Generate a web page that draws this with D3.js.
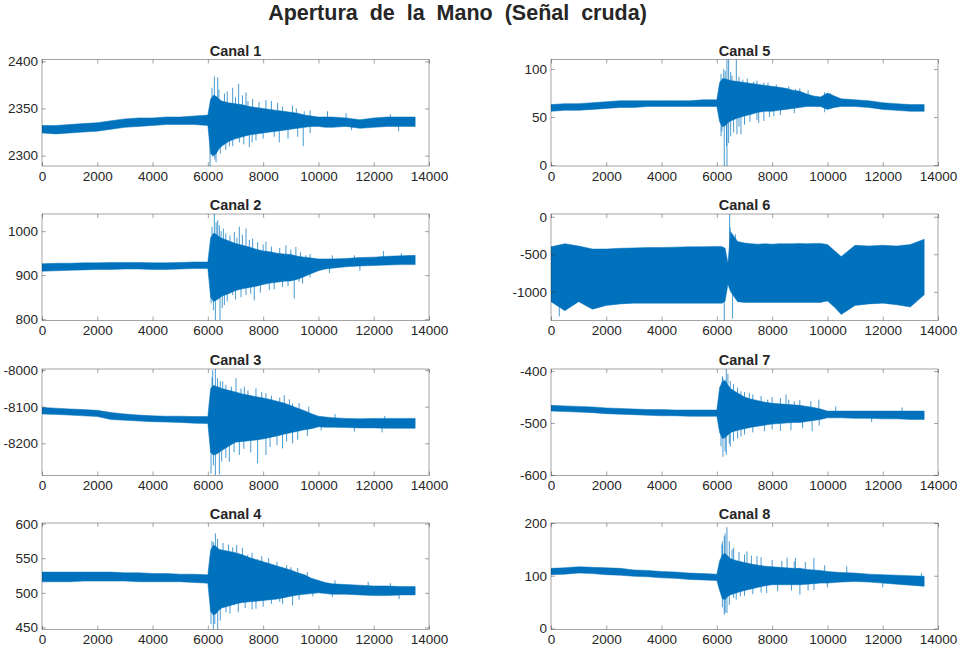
<!DOCTYPE html>
<html>
<head>
<meta charset="utf-8">
<script src="https://cdn.jsdelivr.net/npm/d3@7"></script>
<style>
  html, body { margin: 0; padding: 0; background: #ffffff; }
  svg { display: block; font-family: "Liberation Sans", Arial, Helvetica, sans-serif; }
</style>
</head>
<body>
<svg id="chart" width="959" height="651"></svg>
<script>
// ---------------- DATA ----------------
const chartTitle = "Apertura  de  la  Mano  (Señal  cruda)";
const channelNames = ["Canal 1", "Canal 2", "Canal 3", "Canal 4", "Canal 5", "Canal 6", "Canal 7", "Canal 8"];
const xTicks = [0, 2000, 4000, 6000, 8000, 10000, 12000, 14000];

// sample index grid at which the signal envelope was read
const sampleIdx = [0, 500, 1000, 1500, 2000, 2500, 3000, 3500, 4000, 4500, 5000, 5500, 6000,
  6100, 6200, 6300, 6400, 6500, 6750, 7000, 7250, 7500, 7750, 8000, 8250, 8500, 8750, 9000,
  9250, 9500, 9750, 10000, 10250, 10500, 11000, 11500, 12000, 12500, 13000, 13500];

// Canal 1
const canal1Upper = [2332, 2332, 2333, 2334, 2335, 2337, 2339, 2340, 2340, 2341, 2341, 2342, 2343,
  2360, 2364, 2363, 2360, 2358, 2356, 2355, 2354, 2352, 2351, 2350, 2349, 2348, 2347, 2346,
  2345, 2343, 2342, 2341, 2341, 2341, 2340, 2338, 2340, 2341, 2341, 2341];
const canal1Lower = [2324, 2323, 2324, 2325, 2326, 2328, 2330, 2331, 2332, 2333, 2333, 2333, 2332,
  2302, 2300, 2302, 2307, 2310, 2315, 2318, 2320, 2322, 2323, 2324, 2325, 2326, 2327, 2328,
  2329, 2330, 2331, 2331, 2330, 2330, 2331, 2329, 2330, 2331, 2331, 2331];
const canal1Spikes = [[6236, 2384], [6356, 2383], [6079, 2289], [6175, 2299], [6296, 2293],
  [6898, 2372], [7114, 2376], [7379, 2367], [7620, 2360], [8101, 2359], [8523, 2356], [9065, 2353],
  [9486, 2347], [10329, 2347], [6777, 2310], [7139, 2314], [7500, 2309], [7741, 2316], [8583, 2314], [9450, 2310],
  [6150, 2372], [6400, 2370], [6600, 2366], [6700, 2368], [7000, 2362], [7250, 2364], [7450, 2358],
  [7850, 2357], [8300, 2358], [8700, 2352], [9200, 2350], [9700, 2348], [11000, 2345], [12600, 2344],
  [6250, 2296], [6450, 2302], [6650, 2306], [6900, 2310], [7300, 2312], [7600, 2314], [8000, 2318],
  [8400, 2320], [8900, 2318], [9250, 2320], [9700, 2324], [11200, 2327], [12900, 2326]];

// Canal 2
const canal2Upper = [926, 927, 927, 928, 928, 929, 929, 929, 928, 928, 929, 930, 930,
  985, 995, 993, 988, 984, 978, 972, 968, 964, 959, 955, 953, 950, 948, 947,
  943, 941, 939, 937, 937, 937, 938, 940, 941, 943, 944, 945];
const canal2Lower = [909, 910, 911, 912, 913, 913, 914, 914, 913, 913, 914, 915, 915,
  850, 840, 843, 847, 852, 858, 865, 869, 872, 875, 879, 882, 884, 886, 887,
  891, 897, 904, 910, 914, 916, 919, 921, 922, 923, 924, 924];
const canal2Spikes = [[6236, 1039], [6356, 1025], [6416, 1013], [6561, 1006], [6958, 998], [7139, 1010],
  [7380, 1006], [7620, 983], [8101, 976], [8824, 968], [9185, 964], [9546, 945],
  [6115, 836], [6272, 797], [6440, 797], [6597, 832], [6898, 855], [7380, 855], [7680, 843],
  [8222, 866], [8703, 873], [9125, 847], [9426, 881],
  [6150, 1010], [6300, 1020], [6480, 1000], [6650, 995], [6800, 990], [7050, 985], [7250, 992], [7500, 980],
  [7800, 975], [8000, 970], [8300, 965], [8600, 962], [9000, 958], [9350, 952], [9700, 948], [10500, 945],
  [11300, 945], [12350, 955], [13000, 950],
  [6200, 820], [6520, 825], [6700, 840], [7000, 845], [7200, 850], [7550, 858], [7900, 860], [8400, 868],
  [8900, 875], [9300, 885], [9700, 895], [10400, 905], [11500, 910]];

// Canal 3
const canal3Upper = [-8102, -8104, -8106, -8108, -8110, -8116, -8120, -8123, -8125, -8126, -8126, -8127, -8127,
  -8050, -8042, -8044, -8047, -8050, -8055, -8060, -8065, -8069, -8073, -8076, -8080, -8085, -8090, -8097,
  -8104, -8111, -8119, -8126, -8128, -8130, -8132, -8133, -8132, -8132, -8132, -8132];
const canal3Lower = [-8120, -8121, -8123, -8125, -8127, -8135, -8137, -8139, -8141, -8142, -8143, -8145, -8146,
  -8225, -8232, -8230, -8225, -8220, -8208, -8197, -8195, -8193, -8191, -8188, -8184, -8180, -8175, -8171,
  -8167, -8163, -8160, -8155, -8156, -8156, -8157, -8158, -8158, -8159, -8159, -8159];
const canal3Spikes = [[6175, -8000], [6272, -7995], [6350, -8022], [6537, -8031], [7018, -8022], [7320, -8045],
  [7741, -8050], [8101, -8063], [8764, -8068], [9065, -8091],
  [6115, -8283], [6272, -8287], [6416, -8285], [6777, -8251], [7139, -8232], [7800, -8255],
  [8101, -8232], [8703, -8214], [9065, -8200],
  [6150, -8020], [6450, -8030], [6650, -8040], [6850, -8045], [7200, -8050], [7450, -8055], [7950, -8060],
  [8300, -8070], [8600, -8075], [8950, -8080], [9300, -8090], [9650, -8100], [10600, -8120], [12400, -8125],
  [6200, -8260], [6500, -8250], [6650, -8240], [6950, -8225], [7300, -8215], [7550, -8225], [8250, -8210],
  [8500, -8205], [8850, -8195], [9250, -8190], [9600, -8180], [10100, -8165], [11300, -8168], [12300, -8170]];

// Canal 4
const canal4Upper = [530, 530, 530, 530, 530, 530, 529, 529, 528, 528, 527, 527, 526,
  562, 569, 567, 563, 562, 560, 558, 555, 551, 548, 545, 542, 539, 536, 533,
  529, 526, 521, 518, 515, 513, 512, 511, 510, 510, 509, 509];
const canal4Lower = [516, 516, 516, 517, 517, 517, 517, 516, 516, 516, 516, 515, 514,
  473, 468, 470, 475, 478, 481, 484, 486, 487, 488, 489, 490, 491, 493, 495,
  497, 498, 499, 500, 499, 498, 498, 497, 496, 496, 497, 497];
const canal4Spikes = [[6272, 586], [6200, 573], [6416, 561], [7042, 569], [7440, 555], [7800, 549],
  [8342, 540], [8679, 537], [9004, 537], [10028, 518],
  [6115, 455], [6200, 447], [6356, 447], [6657, 472], [6958, 482], [7740, 477], [8703, 484],
  [9065, 482], [12917, 491],
  [6150, 575], [6350, 578], [6550, 572], [6750, 570], [6900, 566], [7250, 565], [7600, 558], [7950, 553],
  [8200, 550], [8500, 545], [8850, 540], [9250, 536], [9600, 530], [10600, 518], [11800, 516], [12600, 514],
  [6250, 455], [6450, 460], [6800, 470], [7100, 472], [7350, 478], [7600, 476], [8000, 480], [8300, 484],
  [8600, 487], [9300, 490], [9800, 495], [10500, 494]];

// Canal 5
const canal5Upper = [63, 64, 64, 65, 66, 67, 67, 67, 67, 67, 67, 68, 68,
  86, 90, 90, 89, 88, 87, 86, 85, 84, 83, 82, 81, 80, 78, 77,
  74, 72, 71, 75, 72, 69, 68, 67, 65, 64, 63, 63];
const canal5Lower = [56, 57, 57, 58, 59, 60, 60, 61, 61, 61, 61, 61, 61,
  45, 40, 41, 44, 46, 49, 51, 53, 55, 56, 56, 57, 58, 59, 60,
  61, 61, 61, 58, 60, 61, 61, 60, 58, 57, 56, 56];
const canal5Spikes = [[6366, 112], [6426, 112], [6704, 112], [6300, 98], [6547, 93], [6940, 89],
  [7332, 87], [7700, 86], [8419, 80], [8842, 79], [10000, 74],
  [6184, 35], [6268, -2], [6366, -2], [6426, 23], [6607, 34], [6727, 32], [6872, 32],
  [7513, 44], [7700, 46], [8060, 51],
  [6150, 95], [6250, 100], [6500, 97], [6800, 92], [7100, 90], [7450, 88], [7850, 86], [8150, 84],
  [8600, 82], [9000, 80], [9300, 78], [9900, 76], [10100, 75],
  [6150, 30], [6350, 20], [6500, 30], [6800, 40], [7000, 42], [7200, 45], [7450, 47], [7900, 50],
  [8300, 52], [8800, 54], [9900, 55]];

// Canal 6
const canal6Upper = [-400, -360, -390, -430, -430, -420, -415, -410, -410, -405, -400, -400, -395,
  -395, -400, -420, -620, -200, -330, -350, -360, -365, -360, -365, -360, -360, -360, -355,
  -360, -355, -355, -370, -450, -530, -380, -390, -380, -390, -370, -300];
const canal6Lower = [-1130, -1250, -1130, -1230, -1180, -1160, -1150, -1150, -1150, -1150, -1150, -1150, -1150,
  -1150, -1150, -1120, -900, -1000, -1130, -1140, -1140, -1140, -1140, -1140, -1140, -1140, -1140, -1140,
  -1140, -1140, -1140, -1120, -1200, -1300, -1180, -1160, -1150, -1170, -1200, -1040];
const canal6Spikes = [[6462, 40], [6480, -143], [6667, -232], [6269, -1390], [6570, -1357], [300, -1326]];

// Canal 7
const canal7Upper = [-466, -467, -468, -469, -471, -472, -473, -474, -474, -475, -475, -475, -475,
  -432, -420, -418, -427, -434, -442, -450, -454, -457, -460, -462, -463, -464, -465, -466,
  -468, -470, -473, -477, -477, -477, -477, -477, -477, -477, -477, -477];
const canal7Lower = [-477, -478, -479, -480, -482, -483, -484, -485, -486, -486, -487, -487, -487,
  -518, -530, -528, -523, -518, -514, -511, -508, -506, -504, -502, -501, -500, -499, -499,
  -497, -495, -493, -490, -490, -490, -491, -491, -492, -492, -493, -493];
const canal7Spikes = [[6340, -395], [6220, -413], [6486, -419], [6872, -439], [7174, -442], [7839, -455],
  [8503, -445], [8800, -458], [9688, -455],
  [6220, -565], [6340, -561], [6486, -545], [6872, -526], [7720, -516], [8680, -514], [9446, -516],
  [6200, -410], [6400, -405], [6600, -425], [6750, -432], [7000, -440], [7300, -445], [7600, -448],
  [8000, -450], [8300, -452], [8600, -455], [9000, -456], [9400, -458], [10300, -468], [12700, -470],
  [6150, -545], [6300, -555], [6450, -540], [6600, -535], [6750, -530], [7000, -522], [7300, -518],
  [8000, -512], [8300, -515], [9100, -510], [9700, -505], [11600, -498]];

// Canal 8
const canal8Upper = [114, 115, 117, 116, 115, 114, 111, 110, 108, 107, 105, 104, 103,
  128, 140, 142, 137, 132, 128, 125, 122, 120, 118, 117, 116, 115, 114, 114,
  112, 111, 110, 108, 107, 106, 105, 103, 102, 101, 100, 99];
const canal8Lower = [102, 103, 105, 104, 102, 101, 99, 98, 96, 95, 93, 92, 91,
  72, 56, 55, 61, 64, 68, 72, 75, 78, 81, 83, 83, 83, 83, 83,
  84, 85, 86, 86, 87, 88, 89, 88, 86, 84, 82, 80];
const canal8Spikes = [[6366, 192], [6268, 175], [6184, 159], [6607, 153], [7090, 146], [7450, 137],
  [8540, 134], [8842, 134], [9511, 134],
  [6268, 26], [6366, 29], [6607, 58], [6850, 61], [7800, 67], [9004, 64], [9511, 73],
  [6200, 165], [6300, 180], [6450, 165], [6550, 150], [6800, 145], [7000, 140], [7250, 138], [7600, 135],
  [8000, 130], [8350, 128], [8800, 127], [9200, 126], [9900, 120], [10700, 118], [13400, 105],
  [6200, 40], [6300, 30], [6450, 45], [6700, 55], [7000, 62], [7300, 65], [7600, 68], [8200, 70],
  [8700, 72], [9300, 72], [10000, 78], [12000, 78]];

// axis limits and tick labels per channel
const yLimits = [[2289, 2402], [797, 1039], [-8288, -7997], [447, 601], [-1, 110], [-1381, 36], [-601, -396], [-2, 200]];
const yTickValues = [[2300, 2350, 2400], [800, 900, 1000], [-8200, -8100, -8000], [450, 500, 550, 600],
  [0, 50, 100], [-1000, -500, 0], [-600, -500, -400], [0, 100, 200]];

// ---------------- BUILD ----------------
const uppers = [canal1Upper, canal2Upper, canal3Upper, canal4Upper, canal5Upper, canal6Upper, canal7Upper, canal8Upper];
const lowers = [canal1Lower, canal2Lower, canal3Lower, canal4Lower, canal5Lower, canal6Lower, canal7Lower, canal8Lower];
const spikes = [canal1Spikes, canal2Spikes, canal3Spikes, canal4Spikes, canal5Spikes, canal6Spikes, canal7Spikes, canal8Spikes];

const svg = d3.select("#chart");
const lineColor = "#0072BD";
const axisColor = "#262626";
const fontFam = "'Liberation Sans', Arial, Helvetica, sans-serif";

svg.append("text")
  .attr("x", 457.5).attr("y", 20)
  .attr("text-anchor", "middle")
  .attr("font-size", 21.5).attr("font-weight", "bold")
  .attr("fill", "#262626")
  .attr("xml:space", "preserve")
  .style("white-space", "pre")
  .text(chartTitle);

const colLeft = [42, 551];
const plotW = 387;
const rowTop = [59.5, 214, 369, 523];
const plotH = 106.5;

const defs = svg.append("defs");
const fmt = d => String(d);

channelNames.forEach((name, i) => {
  const col = i < 4 ? 0 : 1;
  const row = i % 4;
  const x0 = colLeft[col], y0 = rowTop[row];
  const g = svg.append("g").attr("transform", `translate(${x0},${y0})`);

  const x = d3.scaleLinear().domain([0, 14000]).range([0, plotW]);
  const y = d3.scaleLinear().domain(yLimits[i]).range([plotH, 0]);

  const clipId = "clip" + i;
  defs.append("clipPath").attr("id", clipId)
    .append("rect").attr("x", 0).attr("y", 0).attr("width", plotW).attr("height", plotH);

  const pts = sampleIdx.map((s, k) => ({ s, hi: uppers[i][k], lo: lowers[i][k] }));
  const plot = g.append("g").attr("clip-path", `url(#${clipId})`);

  const area = d3.area()
    .x(d => x(d.s))
    .y0(d => y(d.lo))
    .y1(d => y(d.hi));
  plot.append("path").datum(pts)
    .attr("d", area)
    .attr("fill", lineColor)
    .attr("stroke", lineColor)
    .attr("stroke-width", 0.5)
    .attr("stroke-linejoin", "round");

  // spikes: drawn from the band centre to the read excursion value
  const bis = d3.bisector(d => d.s).left;
  const centreAt = s => {
    const k = bis(pts, s);
    if (k <= 0) return (pts[0].hi + pts[0].lo) / 2;
    if (k >= pts.length) { const p = pts[pts.length - 1]; return (p.hi + p.lo) / 2; }
    const a = pts[k - 1], b = pts[k];
    const t = (s - a.s) / (b.s - a.s);
    return ((a.hi + a.lo) / 2) * (1 - t) + ((b.hi + b.lo) / 2) * t;
  };
  plot.selectAll("line.spike").data(spikes[i]).enter().append("line")
    .attr("class", "spike")
    .attr("x1", d => x(d[0])).attr("x2", d => x(d[0]))
    .attr("y1", d => y(centreAt(d[0])))
    .attr("y2", d => y(d[1]))
    .attr("stroke", lineColor)
    .attr("stroke-width", 0.9)
    .attr("stroke-opacity", 0.8);

  // box
  g.append("rect").attr("x", 0).attr("y", 0).attr("width", plotW).attr("height", plotH)
    .attr("fill", "none").attr("stroke", axisColor).attr("stroke-width", 0.6).attr("stroke-opacity", 0.7);

  // axes (MATLAB style: inward ticks)
  const tickLen = 4;
  const xb = g.append("g").attr("transform", `translate(0,${plotH})`)
    .call(d3.axisBottom(x).tickValues(xTicks).tickSize(-tickLen).tickPadding(5).tickFormat(fmt));
  const xt = g.append("g")
    .call(d3.axisTop(x).tickValues(xTicks).tickSize(-tickLen).tickFormat(""));
  const yl = g.append("g")
    .call(d3.axisLeft(y).tickValues(yTickValues[i]).tickSize(-tickLen).tickPadding(4).tickFormat(fmt));
  const yr = g.append("g").attr("transform", `translate(${plotW},0)`)
    .call(d3.axisRight(y).tickValues(yTickValues[i]).tickSize(-tickLen).tickFormat(""));
  [xb, xt, yl, yr].forEach(a => {
    a.select(".domain").remove();
    a.selectAll(".tick line").attr("stroke", axisColor).attr("stroke-width", 0.6).attr("stroke-opacity", 0.7);
    a.selectAll(".tick text").attr("fill", "#262626").attr("font-size", 13.5).attr("font-family", fontFam);
  });

  g.append("text")
    .attr("x", plotW / 2).attr("y", -4)
    .attr("text-anchor", "middle")
    .attr("font-size", 14.5).attr("font-weight", "bold")
    .attr("font-family", fontFam)
    .attr("fill", "#262626")
    .text(name);
});
</script>
</body>
</html>
